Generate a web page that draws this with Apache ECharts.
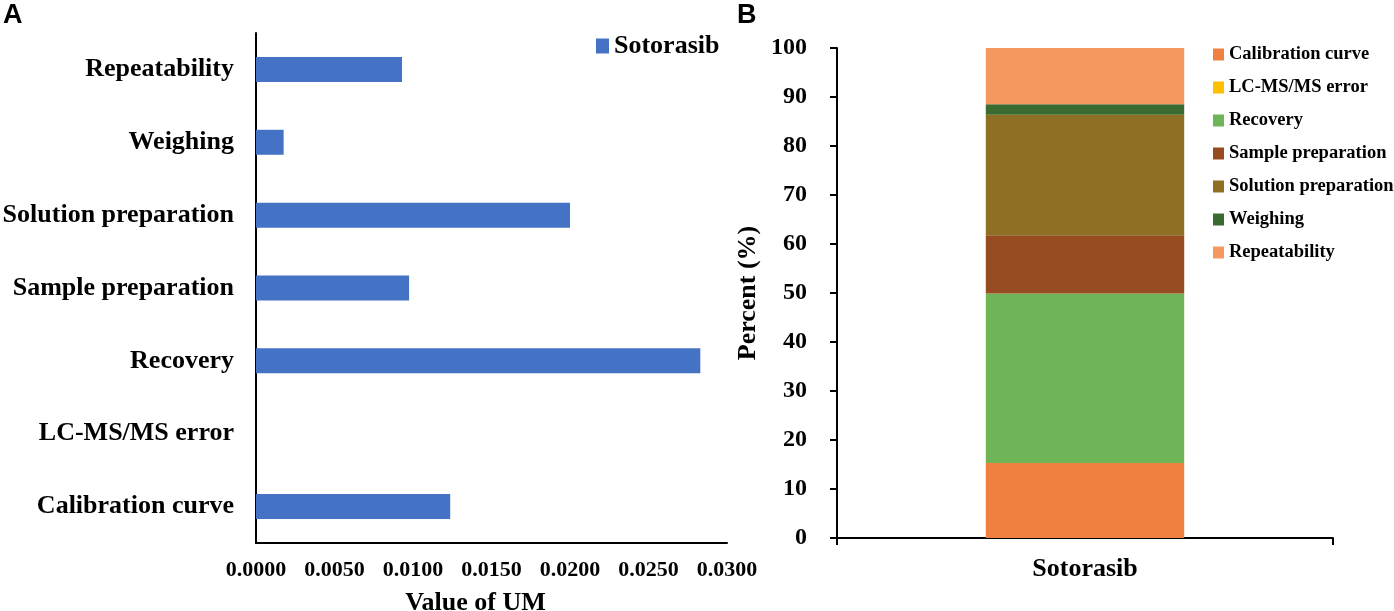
<!DOCTYPE html>
<html>
<head>
<meta charset="utf-8">
<script src="https://cdn.jsdelivr.net/npm/echarts@6/dist/echarts.min.js"></script>
<style>
  html, body { margin: 0; padding: 0; background: #fff; }
  #chart { width: 1394px; height: 611px; }
</style>
</head>
<body>
<div id="chart"></div>
<script>
// sources of uncertainty, bottom to top
const sources = ['Calibration curve', 'LC-MS/MS error', 'Recovery', 'Sample preparation', 'Solution preparation', 'Weighing', 'Repeatability']
// panel A: value of UM
const umValues = [0.01237, 0, 0.0283, 0.00975, 0.0200, 0.00176, 0.0093]
// panel B: percent contribution
const percentValues = [15.3, 0, 34.6, 11.9, 24.6, 2.1, 11.5]
const drugs = ['Sotorasib']
const colorsB = ['#EF8040', '#FFC000', '#6FB457', '#974B21', '#8E6F24', '#3B6B30', '#F4985F']

const serif = 'Liberation Serif'
const txt = { fontFamily: serif, fontWeight: 'bold', color: '#000' }

const chart = echarts.init(document.getElementById('chart'))

const stackSeries = sources.map((name, i) => ({
  name: name,
  type: 'bar',
  stack: 'total',
  xAxisIndex: 1,
  yAxisIndex: 1,
  barWidth: '40%',
  itemStyle: { color: colorsB[i] },
  data: [percentValues[i]]
}))

chart.setOption({
  animation: false,
  graphic: [
    { type: 'text', left: 3, top: 2, style: { text: 'A', font: 'bold 27px "Liberation Sans"', fill: '#000' } },
    { type: 'text', left: 737, top: 2, style: { text: 'B', font: 'bold 27px "Liberation Sans"', fill: '#000' } }
  ],
  legend: [
    {
      data: ['Sotorasib'],
      left: 596, top: 33, padding: 0,
      icon: 'rect', itemWidth: 13, itemHeight: 15,
      textStyle: { ...txt, fontSize: 26 }
    },
    {
      data: sources,
      orient: 'vertical',
      left: 1213, top: 45, padding: 0,
      icon: 'rect', itemWidth: 11, itemHeight: 12, itemGap: 14,
      textStyle: { ...txt, fontSize: 18.5 }
    }
  ],
  grid: [
    { left: 256, top: 33, width: 471, height: 510, outerBoundsMode: 'none' },
    { left: 837, top: 48, width: 496, height: 490, outerBoundsMode: 'none' }
  ],
  xAxis: [
    {
      gridIndex: 0,
      type: 'value',
      min: 0, max: 0.03, interval: 0.005,
      splitLine: { show: false },
      axisLine: { show: true, lineStyle: { color: '#000', width: 2 } },
      axisTick: { show: false },
      axisLabel: { ...txt, fontSize: 22, margin: 16, formatter: v => v.toFixed(4) },
      name: 'Value of UM',
      nameLocation: 'middle',
      nameGap: 47,
      nameTextStyle: { ...txt, fontSize: 26, padding: [0, 32, 0, 0] }
    },
    {
      gridIndex: 1,
      type: 'category',
      data: drugs,
      axisLine: { lineStyle: { color: '#000', width: 2 } },
      axisTick: { show: true, length: 7, lineStyle: { color: '#000', width: 2 } },
      axisLabel: { ...txt, fontSize: 26, margin: 18 }
    }
  ],
  yAxis: [
    {
      gridIndex: 0,
      type: 'category',
      data: sources,
      axisLine: { lineStyle: { color: '#000', width: 2 } },
      axisTick: { show: false },
      axisLabel: { ...txt, fontSize: 26, margin: 22 }
    },
    {
      gridIndex: 1,
      type: 'value',
      min: 0, max: 100, interval: 10,
      splitLine: { show: false },
      axisLine: { show: true, lineStyle: { color: '#000', width: 2 } },
      axisTick: { show: true, length: 7, lineStyle: { color: '#000', width: 2 } },
      axisLabel: { ...txt, fontSize: 24, margin: 30 },
      name: 'Percent (%)',
      nameLocation: 'middle',
      nameGap: 76,
      nameTextStyle: { ...txt, fontSize: 26 }
    }
  ],
  series: [
    {
      name: 'Sotorasib',
      type: 'bar',
      xAxisIndex: 0,
      yAxisIndex: 0,
      barWidth: 25,
      itemStyle: { color: '#4472C4' },
      data: umValues
    },
    ...stackSeries
  ]
})
</script>
</body>
</html>
